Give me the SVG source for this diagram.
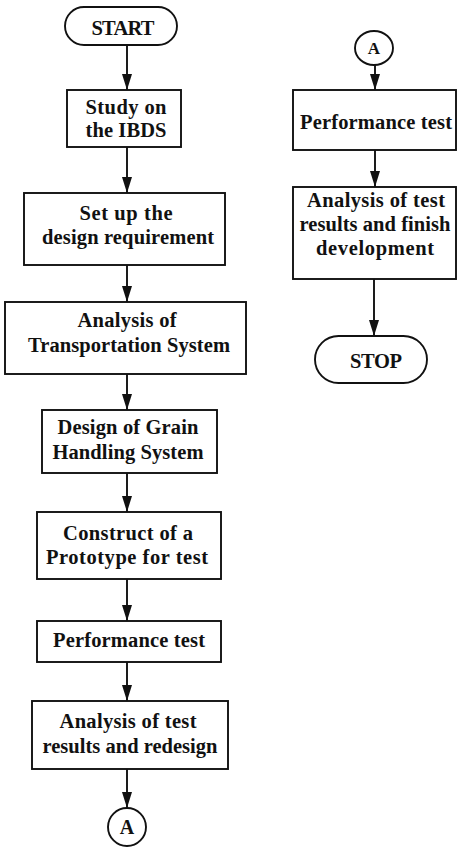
<svg xmlns="http://www.w3.org/2000/svg" width="457" height="847" viewBox="0 0 457 847">
<defs>
<marker id="ah" markerWidth="16" markerHeight="10" refX="16" refY="5" orient="auto" markerUnits="userSpaceOnUse" viewBox="0 0 16 10">
<path d="M0,0 L16,5 L0,10 Z" fill="#111"/>
</marker>
<style>
.b{fill:#fff;stroke:#111;stroke-width:1.9}
.t{font-family:"Liberation Serif","Times New Roman",serif;font-weight:bold;font-size:20.5px;fill:#111;text-anchor:middle}
.c{stroke:#111;stroke-width:1.9;fill:none;marker-end:url(#ah)}
</style>
</defs>
<rect width="457" height="847" fill="#fff"/>
<g id="connectors">
<line class="c" x1="127" y1="45" x2="127" y2="90"/>
<line class="c" x1="127" y1="147" x2="127" y2="193"/>
<line class="c" x1="127" y1="265" x2="127" y2="302"/>
<line class="c" x1="127" y1="374" x2="127" y2="410"/>
<line class="c" x1="127" y1="473" x2="127" y2="512"/>
<line class="c" x1="127" y1="579" x2="127" y2="621"/>
<line class="c" x1="127" y1="662" x2="127" y2="701"/>
<line class="c" x1="127" y1="769" x2="127" y2="808"/>
<line class="c" x1="375" y1="65" x2="375" y2="90"/>
<line class="c" x1="375" y1="150" x2="375" y2="187"/>
<line class="c" x1="374" y1="279" x2="374" y2="336"/>
</g>
<g id="start">
<rect class="b" x="65" y="7" width="112" height="38" rx="19"/>
<text class="t" x="123" y="35" textLength="63">START</text>
</g>
<g id="study">
<rect class="b" x="67" y="90" width="114" height="57"/>
<text class="t" x="126" y="114" textLength="81">Study on</text>
<text class="t" x="126" y="137" textLength="81">the IBDS</text>
</g>
<g id="setup">
<rect class="b" x="24" y="193" width="201" height="72"/>
<text class="t" x="126" y="220" textLength="93">Set up the</text>
<text class="t" x="128" y="244" textLength="172">design requirement</text>
</g>
<g id="transport">
<rect class="b" x="5" y="302" width="241" height="72"/>
<text class="t" x="127" y="327" textLength="99">Analysis of</text>
<text class="t" x="129" y="352" textLength="202">Transportation System</text>
</g>
<g id="grain">
<rect class="b" x="42" y="410" width="175" height="63"/>
<text class="t" x="128" y="434" textLength="141">Design of Grain</text>
<text class="t" x="128" y="459" textLength="151">Handling System</text>
</g>
<g id="construct">
<rect class="b" x="37" y="512" width="184" height="67"/>
<text class="t" x="128" y="540" textLength="130">Construct of a</text>
<text class="t" x="127" y="564" textLength="162">Prototype for test</text>
</g>
<g id="perf1">
<rect class="b" x="37" y="621" width="184" height="41"/>
<text class="t" x="129" y="647" textLength="152">Performance test</text>
</g>
<g id="redesign">
<rect class="b" x="32" y="701" width="196" height="68"/>
<text class="t" x="128" y="728" textLength="137">Analysis of test</text>
<text class="t" x="130" y="753" textLength="175">results and redesign</text>
</g>
<g id="connA1">
<circle class="b" cx="127" cy="827" r="19"/>
<text class="t" x="127" y="834" style="font-size:20px">A</text>
</g>
<g id="connA2">
<ellipse class="b" cx="374" cy="48" rx="19" ry="17"/>
<text class="t" x="374" y="54" style="font-size:17px">A</text>
</g>
<g id="perf2">
<rect class="b" x="293" y="90" width="163" height="60"/>
<text class="t" x="376" y="129" textLength="152">Performance test</text>
</g>
<g id="finish">
<rect class="b" x="293" y="187" width="163" height="92"/>
<text class="t" x="376" y="207" textLength="138">Analysis of test</text>
<text class="t" x="375" y="231" textLength="151">results and finish</text>
<text class="t" x="375" y="255" textLength="118">development</text>
</g>
<g id="stop">
<rect class="b" x="315" y="336" width="112" height="47" rx="23.5"/>
<text class="t" x="376" y="368" textLength="52">STOP</text>
</g>
</svg>
